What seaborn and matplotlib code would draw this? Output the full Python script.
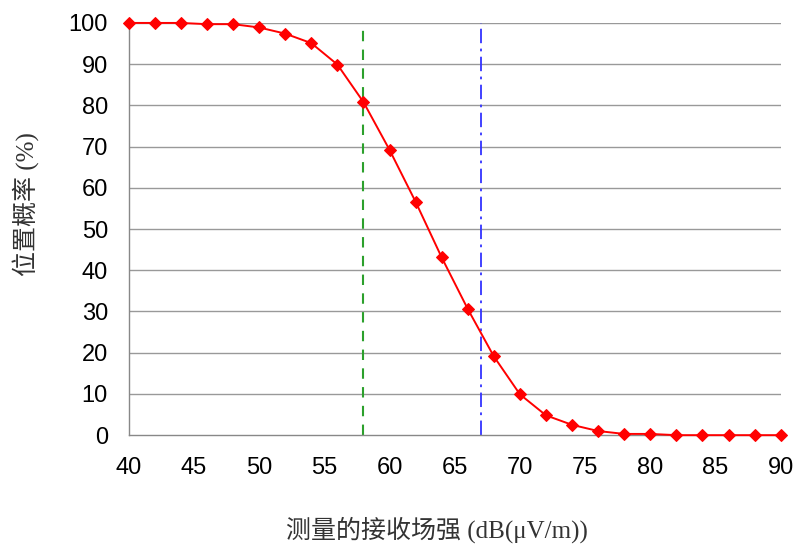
import seaborn as sns
import matplotlib.pyplot as plt
import pandas as pd

# 数据: 场强 (dB(μV/m)) 与位置概率 (%)
field_strength = [40, 42, 44, 46, 48, 50, 52, 54, 56, 58, 60, 62, 64, 66, 68,
                  70, 72, 74, 76, 78, 80, 82, 84, 86, 88, 90]
location_prob = [100, 100, 100, 99.7, 99.7, 98.9, 97.4, 95.1, 89.9, 80.8, 69.2,
                 56.6, 43.1, 30.6, 19.1, 9.9, 4.8, 2.5, 1.0, 0.3, 0.3, 0.0,
                 0.0, 0.0, 0.0, 0.0]
green_line_x = 58
blue_line_x = 67

df = pd.DataFrame({'x': field_strength, 'y': location_prob})

sns.set_style('white')
plt.rcParams['font.family'] = ['Liberation Sans', 'Noto Sans CJK SC', 'DejaVu Sans']

fig = plt.figure(figsize=(7.95, 5.46), dpi=100)
ax = fig.add_axes([0.162, 0.203, 0.82, 0.755])

# 横向网格线
for v in range(10, 101, 10):
    ax.axhline(v, color='#999999', lw=1.0, zorder=0)

ax.axvline(green_line_x, color='#2ca02c', lw=1.5, ls=(0, (5, 4)), zorder=1)
ax.axvline(blue_line_x, color='#3333ff', lw=1.3, ls=(0, (8, 3, 1.5, 3)), zorder=1)

sns.lineplot(data=df, x='x', y='y', ax=ax, color='red', lw=1.4,
             marker='D', markersize=6.5, markeredgecolor='red', clip_on=False,
             zorder=3)

ax.set_xlim(40, 90)
ax.set_ylim(0, 100)
ax.set_xticks(range(40, 91, 5))
ax.set_yticks(range(0, 101, 10))

for s in ['top', 'right']:
    ax.spines[s].set_visible(False)
for s in ['left', 'bottom']:
    ax.spines[s].set_color('#888888')
    ax.spines[s].set_linewidth(1.0)

ax.tick_params(axis='both', direction='out', length=6, width=1.0,
               color='#888888', labelsize=17, labelcolor='black')
ax.tick_params(axis='x', pad=10)
ax.tick_params(axis='y', pad=9)

ax.set_xlabel('测量的接收场强 (dB(μV/m))', fontsize=18, color='#333333',
              family=['Liberation Serif', 'Noto Sans CJK SC'], labelpad=27,
              x=0.472)
ax.set_ylabel('位置概率 (%)', fontsize=18, color='#333333',
              family=['Liberation Serif', 'Noto Sans CJK SC'], labelpad=21,
              y=0.56)

plt.savefig('out.png', dpi=100)
